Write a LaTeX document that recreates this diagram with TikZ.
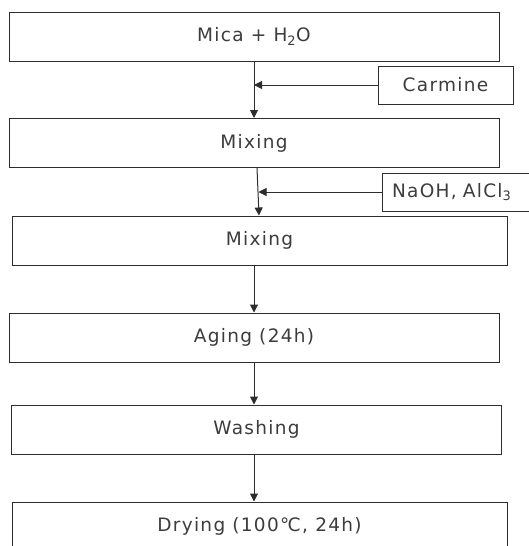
\documentclass[tikz,border=0pt]{standalone}
\usepackage{fontspec}
\setmainfont{DejaVu Sans}[LetterSpace=7]
\usetikzlibrary{arrows.meta, positioning}
\definecolor{linegray}{RGB}{45,45,45}
\definecolor{textgray}{RGB}{60,60,60}
\tikzset{
  stepbox/.style={
    draw=linegray, rectangle, minimum width=490pt,
    minimum height=49pt, inner sep=0pt,
    font=\fontsize{18.5}{22}\selectfont, text=textgray,
    line width=1pt
  },
  addbox/.style={
    draw=linegray, rectangle, minimum height=38pt,
    inner sep=0pt, font=\fontsize{18.5}{22}\selectfont,
    text=textgray, line width=1pt
  },
  flow/.style={-{Triangle[length=8pt,width=8pt]}, draw=linegray, line width=1pt}
}

\begin{document}
\begin{tikzpicture}[x=1pt, y=-1pt]
  \clip (0,0) rectangle (529,546);

  % process steps
  \node[stepbox] (mica)  at (254,36.5)  {Mica + H\textsubscript{2}O};
  \node[stepbox] (mix1)  at (254,143)   {Mixing};
  \node[stepbox, minimum width=495pt] (mix2)  at (259.5,240.5) {Mixing};
  \node[stepbox] (aging) at (254,337.5) {Aging (24h)};
  \node[stepbox] (wash)  at (256.5,429.5) {Washing};
  \node[stepbox, minimum width=495pt] (dry)   at (259.5,526.5) {Drying (100℃, 24h)};

  % additives
  \node[addbox, minimum width=135pt] (carmine) at (445.5,85) {Carmine};
  \node[addbox, minimum width=153pt, text width=147pt, align=left] (base) at (458.5,192)
    {\hspace*{7pt}NaOH, AlCl\textsubscript{3}};

  % main flow
  \draw[flow] (mica.south) -- (mix1.north);
  \draw[flow] ([xshift=3pt]mix1.south) -- ([xshift=-0.5pt]mix2.north);
  \draw[flow] (mix2.south -| aging.north) -- (aging.north);
  \draw[flow] (aging.south) -- (wash.north -| aging.south);
  \draw[flow] (wash.south -| aging.south) -- (dry.north -| aging.south);

  % additive inputs
  \draw[flow] (carmine.west) -- (carmine.west -| mica.south);
  \draw[flow] (base.west) -- ([xshift=4.5pt]base.west -| mix1.south);
\end{tikzpicture}
\end{document}
